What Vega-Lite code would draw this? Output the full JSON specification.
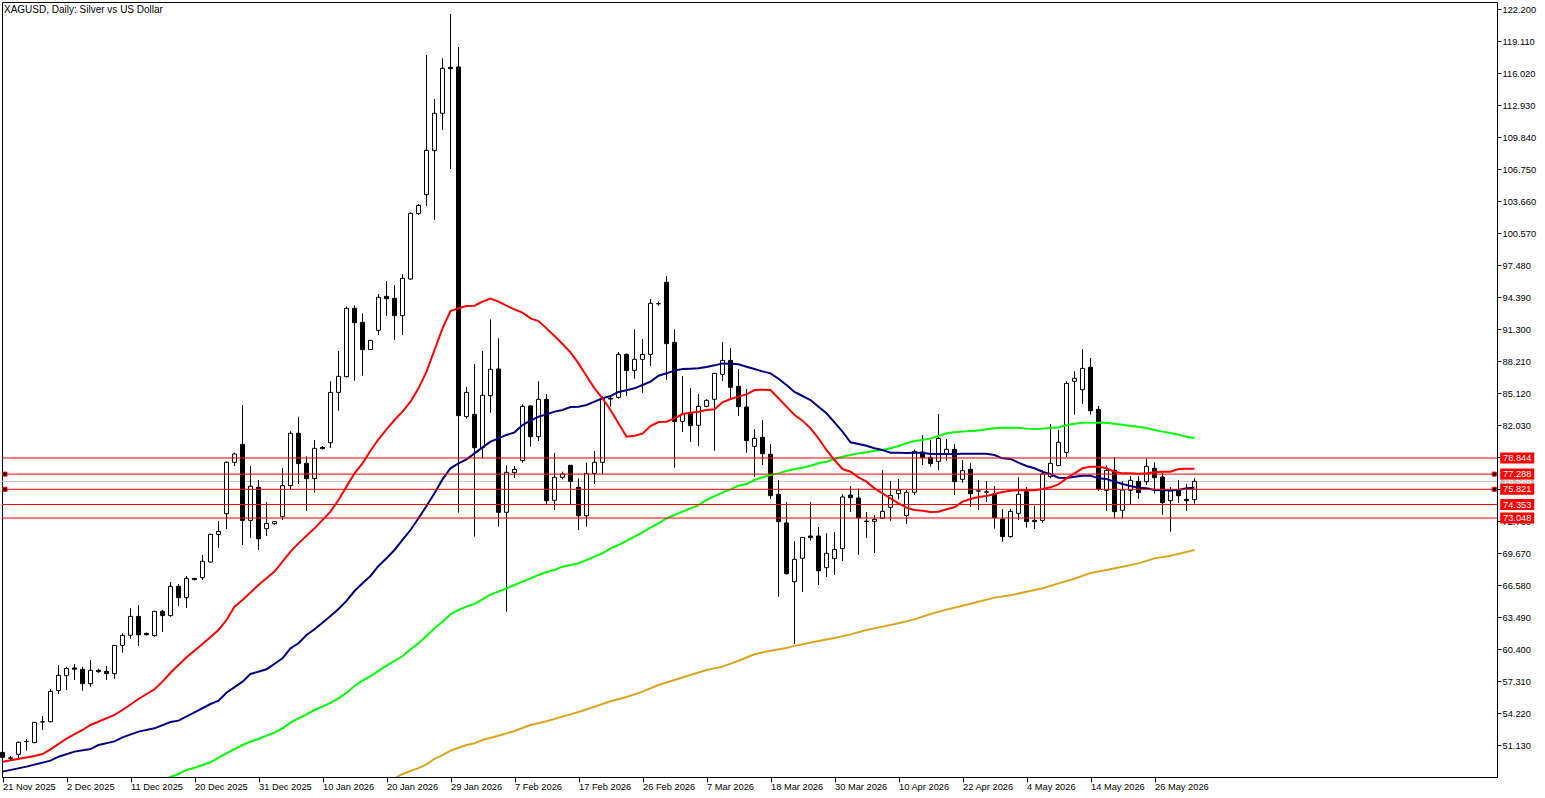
{
  "$schema": "https://vega.github.io/schema/vega-lite/v6.json",
  "autosize": {"type": "none"},
  "padding": {"left": 2, "top": 2, "right": 48, "bottom": 21},
  "width": 1495,
  "height": 775,
  "background": "#ffffff",
  "title": {"text": "XAGUSD, Daily:  Silver vs US Dollar", "anchor": "start", "frame": "group", "offset": -13, "dx": 2, "font": "Liberation Sans", "fontSize": 10, "fontWeight": "normal", "color": "#000000"},
  "config": {
    "view": {"stroke": "#000000", "strokeWidth": 1},
    "axis": {"labelFont": "Liberation Sans", "labelFontSize": 9.3, "labelColor": "#000000", "tickColor": "#000000", "domainColor": "#000000", "grid": false}
  },
  "datasets": {
    "candles": [
      {"bar":0,"open":50.42,"high":50.49,"low":49.84,"close":49.94},
      {"bar":1,"open":49.88,"high":50.07,"low":49.62,"close":49.86},
      {"bar":2,"open":50.23,"high":51.45,"low":49.84,"close":51.39},
      {"bar":3,"open":51.45,"high":51.71,"low":50.58,"close":51.47},
      {"bar":4,"open":51.36,"high":53.35,"low":51.29,"close":53.32},
      {"bar":5,"open":53.35,"high":53.93,"low":52.58,"close":53.37},
      {"bar":6,"open":53.38,"high":56.51,"low":53.32,"close":56.31},
      {"bar":7,"open":56.38,"high":58.86,"low":56.06,"close":57.86},
      {"bar":8,"open":57.83,"high":58.69,"low":56.44,"close":58.53},
      {"bar":9,"open":58.57,"high":58.95,"low":57.41,"close":58.44},
      {"bar":10,"open":58.44,"high":58.69,"low":56.38,"close":57.05},
      {"bar":11,"open":57.05,"high":59.34,"low":56.76,"close":58.34},
      {"bar":12,"open":58.34,"high":58.50,"low":58.11,"close":58.21},
      {"bar":13,"open":58.24,"high":58.76,"low":57.41,"close":58.02},
      {"bar":14,"open":58.02,"high":60.75,"low":57.54,"close":60.75},
      {"bar":15,"open":60.75,"high":61.91,"low":60.05,"close":61.72},
      {"bar":16,"open":61.72,"high":64.33,"low":61.40,"close":63.55},
      {"bar":17,"open":63.55,"high":64.65,"low":60.69,"close":61.78},
      {"bar":18,"open":61.91,"high":61.98,"low":61.72,"close":61.78},
      {"bar":19,"open":61.69,"high":64.10,"low":61.59,"close":64.04},
      {"bar":20,"open":64.04,"high":64.17,"low":62.04,"close":63.62},
      {"bar":21,"open":63.62,"high":66.87,"low":63.52,"close":66.45},
      {"bar":22,"open":66.45,"high":66.68,"low":64.55,"close":65.36},
      {"bar":23,"open":65.36,"high":67.45,"low":64.36,"close":67.22},
      {"bar":24,"open":67.22,"high":67.26,"low":67.03,"close":67.10},
      {"bar":25,"open":67.29,"high":69.48,"low":67.06,"close":68.87},
      {"bar":26,"open":68.80,"high":71.54,"low":68.74,"close":71.47},
      {"bar":27,"open":71.47,"high":72.76,"low":70.15,"close":71.76},
      {"bar":28,"open":73.47,"high":78.52,"low":71.99,"close":78.43},
      {"bar":29,"open":78.43,"high":79.36,"low":78.07,"close":79.23},
      {"bar":30,"open":80.16,"high":83.96,"low":70.44,"close":72.82},
      {"bar":31,"open":72.82,"high":78.07,"low":71.12,"close":76.11},
      {"bar":32,"open":76.01,"high":76.72,"low":69.96,"close":71.05},
      {"bar":33,"open":72.02,"high":74.59,"low":71.31,"close":72.53},
      {"bar":34,"open":72.50,"high":72.76,"low":72.41,"close":72.70},
      {"bar":35,"open":73.18,"high":77.88,"low":72.86,"close":76.17},
      {"bar":36,"open":76.17,"high":81.42,"low":75.85,"close":81.23},
      {"bar":37,"open":81.23,"high":82.83,"low":76.33,"close":78.30},
      {"bar":38,"open":78.33,"high":79.00,"low":73.73,"close":76.85},
      {"bar":39,"open":76.85,"high":80.58,"low":75.50,"close":79.78},
      {"bar":40,"open":79.87,"high":80.00,"low":79.65,"close":79.75},
      {"bar":41,"open":80.32,"high":86.25,"low":79.81,"close":85.18},
      {"bar":42,"open":85.18,"high":89.18,"low":83.41,"close":86.73},
      {"bar":43,"open":86.70,"high":93.49,"low":86.63,"close":93.30},
      {"bar":44,"open":93.30,"high":93.59,"low":86.31,"close":91.91},
      {"bar":45,"open":91.94,"high":92.81,"low":86.79,"close":89.31},
      {"bar":46,"open":89.31,"high":90.21,"low":89.31,"close":90.21},
      {"bar":47,"open":91.17,"high":94.68,"low":90.72,"close":94.36},
      {"bar":48,"open":94.46,"high":95.94,"low":92.56,"close":94.23},
      {"bar":49,"open":94.26,"high":95.55,"low":90.24,"close":92.59},
      {"bar":50,"open":92.59,"high":96.58,"low":90.72,"close":96.19},
      {"bar":51,"open":96.13,"high":102.57,"low":96.03,"close":102.47},
      {"bar":52,"open":102.44,"high":103.37,"low":102.31,"close":103.24},
      {"bar":53,"open":104.27,"high":117.76,"low":103.18,"close":108.55},
      {"bar":54,"open":108.52,"high":113.51,"low":101.83,"close":112.13},
      {"bar":55,"open":112.13,"high":117.44,"low":110.52,"close":116.47},
      {"bar":56,"open":116.57,"high":121.72,"low":106.75,"close":116.44},
      {"bar":57,"open":116.60,"high":118.53,"low":73.57,"close":82.93},
      {"bar":58,"open":82.84,"high":85.70,"low":82.64,"close":85.18},
      {"bar":59,"open":83.06,"high":87.92,"low":71.25,"close":79.84},
      {"bar":60,"open":79.84,"high":89.18,"low":78.81,"close":84.90},
      {"bar":61,"open":84.86,"high":92.23,"low":83.22,"close":87.41},
      {"bar":62,"open":87.44,"high":90.40,"low":72.21,"close":73.60},
      {"bar":63,"open":73.60,"high":78.14,"low":64.01,"close":77.46},
      {"bar":64,"open":77.43,"high":78.07,"low":76.91,"close":77.75},
      {"bar":65,"open":78.59,"high":84.03,"low":78.39,"close":83.83},
      {"bar":66,"open":83.87,"high":83.93,"low":79.94,"close":80.90},
      {"bar":67,"open":80.90,"high":86.25,"low":80.49,"close":84.51},
      {"bar":68,"open":84.51,"high":85.02,"low":74.40,"close":74.72},
      {"bar":69,"open":74.76,"high":79.33,"low":73.82,"close":76.98},
      {"bar":70,"open":76.98,"high":77.52,"low":76.78,"close":77.30},
      {"bar":71,"open":78.14,"high":78.14,"low":74.40,"close":76.59},
      {"bar":72,"open":76.01,"high":76.88,"low":71.89,"close":73.27},
      {"bar":73,"open":73.27,"high":78.39,"low":72.21,"close":77.36},
      {"bar":74,"open":77.36,"high":79.52,"low":76.33,"close":78.43},
      {"bar":75,"open":78.43,"high":84.80,"low":77.30,"close":84.61},
      {"bar":76,"open":84.61,"high":84.77,"low":83.80,"close":84.54},
      {"bar":77,"open":84.70,"high":89.08,"low":84.57,"close":88.85},
      {"bar":78,"open":88.85,"high":88.95,"low":84.83,"close":87.28},
      {"bar":79,"open":87.31,"high":91.27,"low":86.50,"close":88.37},
      {"bar":80,"open":88.37,"high":90.33,"low":85.15,"close":88.85},
      {"bar":81,"open":88.85,"high":94.20,"low":87.73,"close":93.78},
      {"bar":82,"open":93.75,"high":93.94,"low":93.55,"close":93.74},
      {"bar":83,"open":95.81,"high":96.42,"low":86.38,"close":89.88},
      {"bar":84,"open":90.01,"high":91.27,"low":77.91,"close":82.38},
      {"bar":85,"open":82.38,"high":86.76,"low":81.35,"close":83.09},
      {"bar":86,"open":83.16,"high":85.60,"low":80.39,"close":81.97},
      {"bar":87,"open":82.00,"high":85.02,"low":80.00,"close":83.83},
      {"bar":88,"open":83.83,"high":84.51,"low":83.74,"close":84.41},
      {"bar":89,"open":84.51,"high":87.02,"low":79.55,"close":87.02},
      {"bar":90,"open":86.92,"high":90.04,"low":86.28,"close":88.27},
      {"bar":91,"open":88.27,"high":89.47,"low":84.51,"close":85.67},
      {"bar":92,"open":85.76,"high":87.44,"low":82.90,"close":83.80},
      {"bar":93,"open":83.77,"high":85.51,"low":79.36,"close":80.52},
      {"bar":94,"open":79.97,"high":81.64,"low":77.04,"close":80.74},
      {"bar":95,"open":80.84,"high":82.51,"low":78.17,"close":79.26},
      {"bar":96,"open":79.20,"high":80.20,"low":74.88,"close":75.21},
      {"bar":97,"open":75.34,"high":76.72,"low":65.45,"close":72.70},
      {"bar":98,"open":72.57,"high":74.59,"low":67.58,"close":67.67},
      {"bar":99,"open":66.90,"high":70.83,"low":60.88,"close":69.06},
      {"bar":100,"open":69.16,"high":71.18,"low":65.90,"close":71.18},
      {"bar":101,"open":71.31,"high":74.59,"low":70.86,"close":71.15},
      {"bar":102,"open":71.31,"high":72.18,"low":66.58,"close":67.96},
      {"bar":103,"open":68.25,"high":71.57,"low":67.35,"close":69.64},
      {"bar":104,"open":69.12,"high":71.70,"low":67.55,"close":70.02},
      {"bar":105,"open":70.09,"high":75.34,"low":68.90,"close":75.08},
      {"bar":106,"open":75.27,"high":76.14,"low":73.63,"close":75.01},
      {"bar":107,"open":74.98,"high":75.91,"low":69.48,"close":73.05},
      {"bar":108,"open":72.74,"high":73.63,"low":71.12,"close":72.72},
      {"bar":109,"open":72.73,"high":73.34,"low":69.67,"close":72.92},
      {"bar":110,"open":73.02,"high":77.68,"low":73.02,"close":73.69},
      {"bar":111,"open":74.08,"high":76.62,"low":72.79,"close":75.24},
      {"bar":112,"open":75.40,"high":76.82,"low":74.85,"close":75.75},
      {"bar":113,"open":73.28,"high":75.75,"low":72.47,"close":75.53},
      {"bar":114,"open":75.53,"high":79.65,"low":75.27,"close":79.49},
      {"bar":115,"open":79.42,"high":81.06,"low":78.17,"close":78.88},
      {"bar":116,"open":78.91,"high":80.61,"low":78.01,"close":78.30},
      {"bar":117,"open":78.52,"high":83.09,"low":77.68,"close":80.74},
      {"bar":118,"open":79.23,"high":80.68,"low":78.59,"close":79.68},
      {"bar":119,"open":79.68,"high":80.20,"low":75.27,"close":76.56},
      {"bar":120,"open":76.78,"high":78.65,"low":76.46,"close":77.62},
      {"bar":121,"open":77.75,"high":78.33,"low":74.14,"close":75.40},
      {"bar":122,"open":75.67,"high":76.72,"low":73.82,"close":75.65},
      {"bar":123,"open":75.57,"high":76.59,"low":74.59,"close":75.55},
      {"bar":124,"open":75.37,"high":76.14,"low":72.02,"close":73.08},
      {"bar":125,"open":72.95,"high":73.92,"low":70.76,"close":71.25},
      {"bar":126,"open":71.25,"high":73.92,"low":71.15,"close":73.69},
      {"bar":127,"open":73.50,"high":76.98,"low":72.86,"close":75.34},
      {"bar":128,"open":75.59,"high":76.04,"low":72.12,"close":72.70},
      {"bar":129,"open":72.82,"high":74.21,"low":71.99,"close":72.70},
      {"bar":130,"open":72.82,"high":77.68,"low":72.60,"close":77.30},
      {"bar":131,"open":77.04,"high":82.13,"low":76.88,"close":78.33},
      {"bar":132,"open":78.10,"high":81.55,"low":78.07,"close":80.36},
      {"bar":133,"open":79.39,"high":86.25,"low":78.94,"close":86.05},
      {"bar":134,"open":86.25,"high":87.21,"low":83.03,"close":86.54},
      {"bar":135,"open":85.44,"high":89.37,"low":84.06,"close":87.50},
      {"bar":136,"open":87.60,"high":88.50,"low":83.03,"close":83.41},
      {"bar":137,"open":83.54,"high":83.87,"low":75.66,"close":75.85},
      {"bar":138,"open":75.72,"high":78.14,"low":73.73,"close":77.65},
      {"bar":139,"open":77.65,"high":78.94,"low":73.05,"close":73.66},
      {"bar":140,"open":73.79,"high":76.59,"low":73.05,"close":75.75},
      {"bar":141,"open":75.72,"high":77.11,"low":74.40,"close":76.69},
      {"bar":142,"open":76.59,"high":77.11,"low":74.89,"close":75.50},
      {"bar":143,"open":76.56,"high":78.78,"low":76.24,"close":78.04},
      {"bar":144,"open":77.85,"high":78.43,"low":75.40,"close":76.94},
      {"bar":145,"open":77.01,"high":77.40,"low":73.37,"close":74.53},
      {"bar":146,"open":74.72,"high":76.04,"low":71.73,"close":75.66},
      {"bar":147,"open":75.75,"high":76.72,"low":74.50,"close":75.21},
      {"bar":148,"open":74.85,"high":76.33,"low":73.73,"close":74.72},
      {"bar":149,"open":74.82,"high":76.91,"low":74.43,"close":76.59}
    ],
    "maRed": [
      {"bar":0,"value":49.52},{"bar":4,"value":50.07},{"bar":5,"value":50.26},{"bar":6,"value":50.71},{"bar":8,"value":51.74},{"bar":10,"value":52.58},{"bar":11,"value":53.06},{"bar":14,"value":54.03},{"bar":15,"value":54.51},{"bar":17,"value":55.57},{"bar":19,"value":56.51},{"bar":20,"value":57.25},{"bar":21,"value":58.11},{"bar":23,"value":59.60},{"bar":25,"value":60.88},{"bar":27,"value":62.24},{"bar":28,"value":63.20},{"bar":29,"value":64.49},{"bar":30,"value":65.13},{"bar":32,"value":66.58},{"bar":34,"value":67.87},{"bar":35,"value":68.83},{"bar":36,"value":69.80},{"bar":37,"value":70.60},{"bar":39,"value":72.05},{"bar":41,"value":73.66},{"bar":42,"value":74.79},{"bar":43,"value":76.08},{"bar":44,"value":77.36},{"bar":45,"value":78.33},{"bar":46,"value":79.55},{"bar":47,"value":80.65},{"bar":48,"value":81.61},{"bar":49,"value":82.51},{"bar":50,"value":83.32},{"bar":51,"value":84.28},{"bar":52,"value":85.57},{"bar":53,"value":87.18},{"bar":54,"value":89.27},{"bar":55,"value":91.36},{"bar":56,"value":93.04},{"bar":57,"value":93.30},{"bar":58,"value":93.52},{"bar":59,"value":93.55},{"bar":60,"value":93.94},{"bar":61,"value":94.23},{"bar":62,"value":93.94},{"bar":63,"value":93.55},{"bar":64,"value":93.20},{"bar":65,"value":92.88},{"bar":66,"value":92.33},{"bar":67,"value":92.07},{"bar":68,"value":91.36},{"bar":69,"value":90.62},{"bar":70,"value":89.85},{"bar":71,"value":89.05},{"bar":72,"value":87.98},{"bar":73,"value":86.76},{"bar":74,"value":85.57},{"bar":75,"value":84.61},{"bar":76,"value":83.48},{"bar":77,"value":82.19},{"bar":78,"value":80.90},{"bar":79,"value":81.00},{"bar":80,"value":81.19},{"bar":81,"value":81.93},{"bar":82,"value":82.32},{"bar":83,"value":82.35},{"bar":84,"value":82.67},{"bar":85,"value":83.09},{"bar":86,"value":83.22},{"bar":87,"value":83.32},{"bar":88,"value":83.48},{"bar":89,"value":83.54},{"bar":90,"value":84.22},{"bar":91,"value":84.54},{"bar":92,"value":84.77},{"bar":93,"value":84.99},{"bar":94,"value":85.41},{"bar":95,"value":85.44},{"bar":96,"value":85.41},{"bar":97,"value":84.61},{"bar":98,"value":83.80},{"bar":99,"value":82.99},{"bar":100,"value":82.45},{"bar":101,"value":81.71},{"bar":102,"value":80.74},{"bar":103,"value":79.62},{"bar":104,"value":78.65},{"bar":105,"value":77.78},{"bar":106,"value":77.52},{"bar":107,"value":76.98},{"bar":108,"value":76.56},{"bar":109,"value":75.91},{"bar":110,"value":75.43},{"bar":111,"value":74.95},{"bar":112,"value":74.47},{"bar":113,"value":74.05},{"bar":114,"value":73.82},{"bar":115,"value":73.76},{"bar":116,"value":73.63},{"bar":117,"value":73.66},{"bar":118,"value":73.89},{"bar":119,"value":74.08},{"bar":120,"value":74.63},{"bar":121,"value":74.88},{"bar":122,"value":75.08},{"bar":123,"value":75.17},{"bar":124,"value":75.37},{"bar":125,"value":75.56},{"bar":126,"value":75.69},{"bar":127,"value":75.72},{"bar":128,"value":75.72},{"bar":129,"value":75.72},{"bar":130,"value":75.85},{"bar":131,"value":76.01},{"bar":132,"value":76.30},{"bar":133,"value":76.88},{"bar":134,"value":77.36},{"bar":135,"value":77.85},{"bar":136,"value":78.01},{"bar":137,"value":78.01},{"bar":138,"value":77.85},{"bar":139,"value":77.52},{"bar":140,"value":77.36},{"bar":141,"value":77.36},{"bar":142,"value":77.33},{"bar":143,"value":77.36},{"bar":144,"value":77.46},{"bar":145,"value":77.52},{"bar":146,"value":77.52},{"bar":147,"value":77.78},{"bar":148,"value":77.81},{"bar":149,"value":77.81}
    ],
    "maNavy": [
      {"bar":0,"value":48.56},{"bar":3,"value":49.04},{"bar":6,"value":49.62},{"bar":7,"value":50.00},{"bar":9,"value":50.49},{"bar":11,"value":50.74},{"bar":12,"value":51.13},{"bar":14,"value":51.48},{"bar":15,"value":51.87},{"bar":17,"value":52.42},{"bar":19,"value":52.74},{"bar":21,"value":53.35},{"bar":22,"value":53.48},{"bar":24,"value":54.28},{"bar":26,"value":55.09},{"bar":27,"value":55.41},{"bar":28,"value":56.18},{"bar":30,"value":57.25},{"bar":31,"value":57.99},{"bar":33,"value":58.44},{"bar":35,"value":59.50},{"bar":36,"value":60.46},{"bar":37,"value":60.95},{"bar":38,"value":61.75},{"bar":39,"value":62.30},{"bar":40,"value":62.94},{"bar":41,"value":63.59},{"bar":42,"value":64.26},{"bar":43,"value":65.04},{"bar":44,"value":66.00},{"bar":45,"value":66.74},{"bar":46,"value":67.45},{"bar":47,"value":68.42},{"bar":48,"value":69.16},{"bar":49,"value":69.96},{"bar":50,"value":70.93},{"bar":51,"value":71.89},{"bar":52,"value":73.02},{"bar":53,"value":74.21},{"bar":54,"value":75.43},{"bar":55,"value":76.78},{"bar":56,"value":77.85},{"bar":57,"value":78.33},{"bar":58,"value":78.72},{"bar":59,"value":79.29},{"bar":60,"value":79.87},{"bar":61,"value":80.42},{"bar":62,"value":80.74},{"bar":63,"value":81.07},{"bar":64,"value":81.32},{"bar":65,"value":82.03},{"bar":66,"value":82.45},{"bar":67,"value":82.83},{"bar":68,"value":83.06},{"bar":69,"value":83.32},{"bar":70,"value":83.48},{"bar":71,"value":83.77},{"bar":72,"value":83.80},{"bar":73,"value":83.96},{"bar":74,"value":84.28},{"bar":75,"value":84.61},{"bar":76,"value":84.83},{"bar":77,"value":85.22},{"bar":78,"value":85.38},{"bar":79,"value":85.57},{"bar":80,"value":85.89},{"bar":81,"value":86.21},{"bar":82,"value":86.79},{"bar":83,"value":87.02},{"bar":84,"value":87.28},{"bar":85,"value":87.44},{"bar":86,"value":87.47},{"bar":87,"value":87.50},{"bar":88,"value":87.63},{"bar":89,"value":87.79},{"bar":90,"value":87.98},{"bar":91,"value":87.95},{"bar":92,"value":87.89},{"bar":93,"value":87.66},{"bar":94,"value":87.44},{"bar":95,"value":87.21},{"bar":96,"value":87.02},{"bar":97,"value":86.50},{"bar":98,"value":85.89},{"bar":99,"value":85.22},{"bar":100,"value":84.83},{"bar":101,"value":84.44},{"bar":102,"value":83.80},{"bar":103,"value":83.16},{"bar":104,"value":82.29},{"bar":105,"value":81.39},{"bar":106,"value":80.36},{"bar":107,"value":80.19},{"bar":108,"value":80.03},{"bar":109,"value":79.78},{"bar":110,"value":79.62},{"bar":111,"value":79.36},{"bar":112,"value":79.36},{"bar":113,"value":79.33},{"bar":114,"value":79.36},{"bar":115,"value":79.36},{"bar":116,"value":79.23},{"bar":117,"value":79.23},{"bar":118,"value":79.23},{"bar":119,"value":79.23},{"bar":120,"value":79.26},{"bar":121,"value":79.26},{"bar":122,"value":79.26},{"bar":123,"value":79.26},{"bar":124,"value":79.13},{"bar":125,"value":78.81},{"bar":126,"value":78.75},{"bar":127,"value":78.39},{"bar":128,"value":78.07},{"bar":129,"value":77.85},{"bar":130,"value":77.52},{"bar":131,"value":77.27},{"bar":132,"value":76.94},{"bar":133,"value":76.91},{"bar":134,"value":77.04},{"bar":135,"value":77.14},{"bar":136,"value":77.14},{"bar":137,"value":76.88},{"bar":138,"value":76.82},{"bar":139,"value":76.56},{"bar":140,"value":76.33},{"bar":141,"value":76.14},{"bar":142,"value":75.98},{"bar":143,"value":75.92},{"bar":144,"value":75.75},{"bar":145,"value":75.72},{"bar":146,"value":75.72},{"bar":147,"value":75.75},{"bar":148,"value":75.92},{"bar":149,"value":75.98}
    ],
    "maGreen": [
      {"bar":20,"value":47.75},{"bar":21,"value":48.04},{"bar":22,"value":48.33},{"bar":23,"value":48.72},{"bar":24,"value":48.94},{"bar":25,"value":49.20},{"bar":26,"value":49.46},{"bar":27,"value":49.91},{"bar":28,"value":50.32},{"bar":29,"value":50.74},{"bar":30,"value":51.13},{"bar":31,"value":51.45},{"bar":32,"value":51.71},{"bar":33,"value":52.03},{"bar":34,"value":52.32},{"bar":35,"value":52.74},{"bar":36,"value":53.29},{"bar":37,"value":53.70},{"bar":38,"value":54.09},{"bar":39,"value":54.51},{"bar":40,"value":54.83},{"bar":41,"value":55.19},{"bar":42,"value":55.64},{"bar":43,"value":56.18},{"bar":44,"value":56.83},{"bar":45,"value":57.34},{"bar":46,"value":57.79},{"bar":47,"value":58.28},{"bar":48,"value":58.79},{"bar":49,"value":59.24},{"bar":50,"value":59.72},{"bar":51,"value":60.37},{"bar":52,"value":60.95},{"bar":53,"value":61.66},{"bar":54,"value":62.40},{"bar":55,"value":63.04},{"bar":56,"value":63.75},{"bar":57,"value":64.17},{"bar":58,"value":64.49},{"bar":59,"value":64.75},{"bar":60,"value":65.20},{"bar":61,"value":65.65},{"bar":62,"value":65.94},{"bar":63,"value":66.26},{"bar":64,"value":66.58},{"bar":65,"value":66.90},{"bar":66,"value":67.22},{"bar":67,"value":67.55},{"bar":68,"value":67.84},{"bar":69,"value":68.03},{"bar":70,"value":68.35},{"bar":71,"value":68.51},{"bar":72,"value":68.67},{"bar":73,"value":68.99},{"bar":74,"value":69.32},{"bar":75,"value":69.64},{"bar":76,"value":70.12},{"bar":77,"value":70.44},{"bar":78,"value":70.83},{"bar":79,"value":71.25},{"bar":80,"value":71.66},{"bar":81,"value":72.12},{"bar":82,"value":72.53},{"bar":83,"value":73.02},{"bar":84,"value":73.34},{"bar":85,"value":73.66},{"bar":86,"value":73.98},{"bar":87,"value":74.30},{"bar":88,"value":74.79},{"bar":89,"value":75.17},{"bar":90,"value":75.50},{"bar":91,"value":75.82},{"bar":92,"value":76.17},{"bar":93,"value":76.33},{"bar":94,"value":76.72},{"bar":95,"value":76.98},{"bar":96,"value":77.20},{"bar":97,"value":77.36},{"bar":98,"value":77.59},{"bar":99,"value":77.78},{"bar":100,"value":77.91},{"bar":101,"value":78.10},{"bar":102,"value":78.33},{"bar":103,"value":78.49},{"bar":104,"value":78.75},{"bar":105,"value":78.97},{"bar":106,"value":79.13},{"bar":107,"value":79.29},{"bar":108,"value":79.39},{"bar":109,"value":79.55},{"bar":110,"value":79.62},{"bar":111,"value":79.78},{"bar":112,"value":80.00},{"bar":113,"value":80.26},{"bar":114,"value":80.48},{"bar":115,"value":80.58},{"bar":116,"value":80.74},{"bar":117,"value":80.97},{"bar":118,"value":81.23},{"bar":119,"value":81.32},{"bar":120,"value":81.39},{"bar":121,"value":81.45},{"bar":122,"value":81.51},{"bar":123,"value":81.61},{"bar":124,"value":81.71},{"bar":125,"value":81.77},{"bar":126,"value":81.77},{"bar":127,"value":81.77},{"bar":128,"value":81.68},{"bar":129,"value":81.64},{"bar":130,"value":81.68},{"bar":131,"value":81.77},{"bar":132,"value":81.80},{"bar":133,"value":82.03},{"bar":134,"value":82.16},{"bar":135,"value":82.25},{"bar":136,"value":82.25},{"bar":137,"value":82.25},{"bar":138,"value":82.25},{"bar":139,"value":82.16},{"bar":140,"value":82.06},{"bar":141,"value":81.93},{"bar":142,"value":81.87},{"bar":143,"value":81.74},{"bar":144,"value":81.55},{"bar":145,"value":81.39},{"bar":146,"value":81.26},{"bar":147,"value":81.10},{"bar":148,"value":80.90},{"bar":149,"value":80.77}
    ],
    "maGold": [
      {"bar":49,"value":47.91},{"bar":50,"value":48.33},{"bar":51,"value":48.62},{"bar":52,"value":48.90},{"bar":53,"value":49.26},{"bar":54,"value":49.80},{"bar":55,"value":50.16},{"bar":56,"value":50.58},{"bar":57,"value":50.87},{"bar":58,"value":51.13},{"bar":59,"value":51.29},{"bar":60,"value":51.61},{"bar":62,"value":52.03},{"bar":64,"value":52.48},{"bar":66,"value":53.06},{"bar":68,"value":53.42},{"bar":70,"value":53.87},{"bar":72,"value":54.32},{"bar":74,"value":54.83},{"bar":76,"value":55.35},{"bar":78,"value":55.77},{"bar":80,"value":56.28},{"bar":82,"value":56.92},{"bar":84,"value":57.41},{"bar":86,"value":57.89},{"bar":88,"value":58.37},{"bar":90,"value":58.70},{"bar":92,"value":59.27},{"bar":94,"value":59.89},{"bar":96,"value":60.24},{"bar":98,"value":60.50},{"bar":99,"value":60.70},{"bar":100,"value":60.85},{"bar":102,"value":61.17},{"bar":104,"value":61.46},{"bar":106,"value":61.81},{"bar":108,"value":62.23},{"bar":110,"value":62.56},{"bar":112,"value":62.88},{"bar":114,"value":63.26},{"bar":116,"value":63.78},{"bar":118,"value":64.20},{"bar":120,"value":64.58},{"bar":122,"value":64.97},{"bar":124,"value":65.36},{"bar":126,"value":65.58},{"bar":128,"value":65.93},{"bar":130,"value":66.26},{"bar":132,"value":66.74},{"bar":134,"value":67.19},{"bar":136,"value":67.74},{"bar":138,"value":68.03},{"bar":140,"value":68.35},{"bar":142,"value":68.67},{"bar":144,"value":69.15},{"bar":146,"value":69.41},{"bar":148,"value":69.77},{"bar":149,"value":69.96}
    ],
    "levels": [
      {"price":78.844},{"price":77.288},{"price":75.821},{"price":74.353},{"price":73.048}
    ],
    "lastPrice": [{"price":76.586}],
    "anchors": [
      {"bar":0.31,"price":77.288},{"bar":0.31,"price":75.821},
      {"bar":186.47,"price":77.288},{"bar":186.47,"price":75.821}
    ]
  },
  "layer": [
    {
      "data": {"name": "lastPrice"},
      "mark": {"type": "rule", "color": "#c0c0c0", "strokeWidth": 1},
      "encoding": {
        "y": {
          "field": "price",
          "type": "quantitative",
          "title": null,
          "scale": {"domain": [48.04, 122.876], "zero": false, "nice": false, "padding": 0},
          "axis": {
            "orient": "right",
            "values": [122.2,119.11,116.02,112.93,109.84,106.75,103.66,100.57,97.48,94.39,91.3,88.21,85.12,82.03,78.94,75.85,72.76,69.67,66.58,63.49,60.4,57.31,54.22,51.13],
            "tickCount": 24,
            "format": ".3f",
            "tickSize": 4,
            "labelPadding": 1,
            "labelAlign": "left",
            "labelFlush": false,
            "labelOverlap": false
          }
        }
      }
    },
    {
      "data": {"name": "candles"},
      "mark": {"type": "rule", "color": "#000000", "strokeWidth": 1},
      "encoding": {
        "x": {
          "field": "bar",
          "type": "quantitative",
          "title": null,
          "scale": {"domain": [-0.0625, 186.8125], "zero": false, "nice": false, "padding": 0},
          "axis": {
            "values": [0,8,16,24,32,40,48,56,64,72,80,88,96,104,112,120,128,136,144],
            "tickCount": 19,
            "labelExpr": "['21 Nov 2025','2 Dec 2025','11 Dec 2025','20 Dec 2025','31 Dec 2025','10 Jan 2026','20 Jan 2026','29 Jan 2026','7 Feb 2026','17 Feb 2026','26 Feb 2026','7 Mar 2026','18 Mar 2026','30 Mar 2026','10 Apr 2026','22 Apr 2026','4 May 2026','14 May 2026','26 May 2026'][datum.value / 8]",
            "tickSize": 5,
            "labelPadding": 0,
            "labelAlign": "left",
            "labelFlush": false,
            "labelOverlap": false
          }
        },
        "y": {"field": "high", "type": "quantitative"},
        "y2": {"field": "low"}
      }
    },
    {
      "data": {"name": "candles"},
      "mark": {"type": "bar", "width": 4, "stroke": "#000000", "strokeWidth": 1},
      "encoding": {
        "x": {"field": "bar", "type": "quantitative"},
        "y": {"field": "open", "type": "quantitative"},
        "y2": {"field": "close"},
        "fill": {
          "condition": {"test": "datum.close >= datum.open", "value": "#ffffff"},
          "value": "#000000"
        }
      }
    },
    {
      "data": {"name": "maGold"},
      "mark": {"type": "line", "color": "#daa520", "strokeWidth": 2, "clip": true},
      "encoding": {
        "x": {"field": "bar", "type": "quantitative"},
        "y": {"field": "value", "type": "quantitative"}
      }
    },
    {
      "data": {"name": "maGreen"},
      "mark": {"type": "line", "color": "#00ff00", "strokeWidth": 2, "clip": true},
      "encoding": {
        "x": {"field": "bar", "type": "quantitative"},
        "y": {"field": "value", "type": "quantitative"}
      }
    },
    {
      "data": {"name": "maNavy"},
      "mark": {"type": "line", "color": "#000080", "strokeWidth": 2, "clip": true},
      "encoding": {
        "x": {"field": "bar", "type": "quantitative"},
        "y": {"field": "value", "type": "quantitative"}
      }
    },
    {
      "data": {"name": "maRed"},
      "mark": {"type": "line", "color": "#ff0000", "strokeWidth": 2, "clip": true},
      "encoding": {
        "x": {"field": "bar", "type": "quantitative"},
        "y": {"field": "value", "type": "quantitative"}
      }
    },
    {
      "data": {"name": "levels"},
      "mark": {"type": "rule", "color": "#ff0000", "strokeWidth": 1},
      "encoding": {"y": {"field": "price", "type": "quantitative"}}
    },
    {
      "data": {"name": "anchors"},
      "mark": {"type": "point", "shape": "square", "size": 16, "filled": true, "fill": "#000000", "stroke": "#ff0000", "strokeWidth": 1, "opacity": 1},
      "encoding": {
        "x": {"field": "bar", "type": "quantitative"},
        "y": {"field": "price", "type": "quantitative"}
      }
    },
    {
      "data": {"name": "lastPrice"},
      "mark": {"type": "rect", "width": 34, "height": 11, "color": "#c0c0c0"},
      "encoding": {
        "x": {"datum": 189.34, "type": "quantitative"},
        "y": {"field": "price", "type": "quantitative"}
      }
    },
    {
      "data": {"name": "lastPrice"},
      "mark": {"type": "text", "color": "#ffffff", "font": "Liberation Sans", "fontSize": 9.3},
      "encoding": {
        "x": {"datum": 189.34, "type": "quantitative"},
        "y": {"field": "price", "type": "quantitative"},
        "text": {"field": "price", "format": ".3f"}
      }
    },
    {
      "data": {"name": "levels"},
      "mark": {"type": "rect", "width": 34, "height": 11, "color": "#ff0000"},
      "encoding": {
        "x": {"datum": 189.34, "type": "quantitative"},
        "y": {"field": "price", "type": "quantitative"}
      }
    },
    {
      "data": {"name": "levels"},
      "mark": {"type": "text", "color": "#ffffff", "font": "Liberation Sans", "fontSize": 9.3},
      "encoding": {
        "x": {"datum": 189.34, "type": "quantitative"},
        "y": {"field": "price", "type": "quantitative"},
        "text": {"field": "price", "format": ".3f"}
      }
    }
  ]
}
